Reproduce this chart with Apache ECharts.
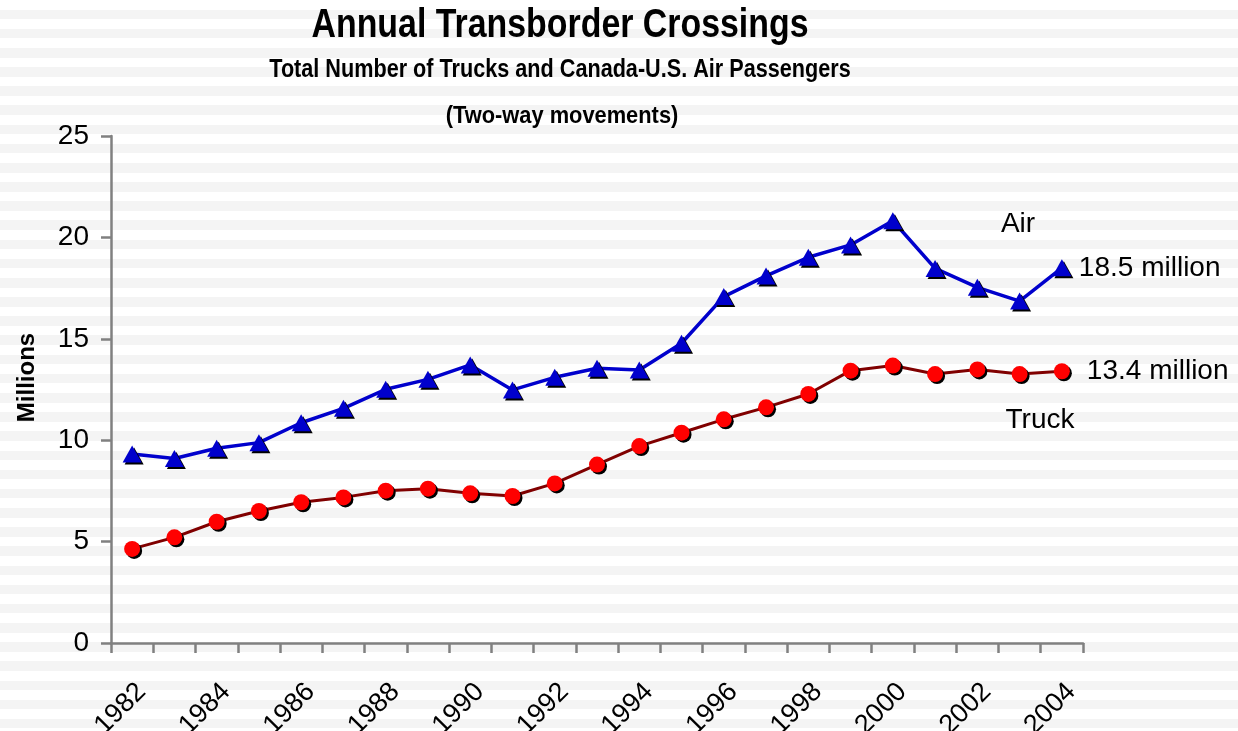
<!DOCTYPE html>
<html>
<head>
<meta charset="utf-8">
<script src="https://cdn.jsdelivr.net/npm/echarts@6/dist/echarts.min.js"></script>
<style>
html,body{margin:0;padding:0;}
#chart{width:1238px;height:731px;
background: repeating-linear-gradient(to bottom, #ffffff 0px, #ffffff 9.6px, #f4f4f4 9.6px, #f4f4f4 19.17px);}
</style>
</head>
<body>
<div id="chart"></div>
<script>
const years = ['1982','1983','1984','1985','1986','1987','1988','1989','1990','1991','1992','1993','1994','1995','1996','1997','1998','1999','2000','2001','2002','2003','2004'];
const air = [9.32, 9.1, 9.6, 9.88, 10.86, 11.57, 12.51, 13.0, 13.71, 12.48, 13.1, 13.55, 13.46, 14.78, 17.08, 18.1, 19.02, 19.63, 20.82, 18.47, 17.54, 16.86, 18.5];
const truck = [4.64, 5.21, 5.98, 6.51, 6.94, 7.18, 7.51, 7.61, 7.38, 7.25, 7.87, 8.8, 9.71, 10.37, 11.03, 11.62, 12.28, 13.43, 13.68, 13.26, 13.49, 13.26, 13.4];
const yMin = 0, yMax = 25, yStep = 5;
const titleText = 'Annual Transborder Crossings';
const subText = 'Total Number of Trucks and Canada-U.S. Air Passengers';
const subText2 = '(Two-way movements)';
const yName = 'Millions';
const airName = 'Air', truckName = 'Truck';

const FONT = '"Liberation Sans", Arial, sans-serif';
const chart = echarts.init(document.getElementById('chart'), null, {renderer:'canvas'});
const shadow = {shadowColor:'rgba(0,0,0,1)', shadowBlur:0, shadowOffsetX:2, shadowOffsetY:2};
function label(text, cx, cy, size, bold, sx) {
  return {type: 'text', x: cx, y: cy, scaleX: sx, scaleY: 1,
    style: {text: text, font: (bold ? 'bold ' : '') + size + 'px ' + FONT, fill: '#000',
      textAlign: 'center', textVerticalAlign: 'middle'}};
}
chart.setOption({
  backgroundColor: 'transparent',
  animation: false,
  grid: {left: 111, right: 1238 - 1083, top: 136, bottom: 731 - 643, containLabel: false, outerBoundsMode: 'none'},
  xAxis: {
    type: 'category', data: years, boundaryGap: true,
    axisLine: {lineStyle: {color: '#808080', width: 2.5}},
    axisTick: {show: true, alignWithLabel: false, interval: 0, length: 10, lineStyle: {color: '#808080', width: 2.5}},
    axisLabel: {interval: 1, rotate: 45, margin: 35, verticalAlign: 'top', fontFamily: FONT, fontSize: 27, color: '#000'},
    splitLine: {show: false}
  },
  yAxis: {
    type: 'value', min: yMin, max: yMax, interval: yStep,
    name: yName, nameLocation: 'middle', nameRotate: 90, nameGap: 72,
    nameTextStyle: {fontFamily: FONT, fontWeight: 'bold', fontSize: 24, color: '#000', padding: [0, 0, 0, 24]},
    axisLine: {show: true, lineStyle: {color: '#808080', width: 2.5}},
    axisTick: {show: true, length: 10, lineStyle: {color: '#808080', width: 2.5}},
    axisLabel: {margin: 22, fontFamily: FONT, fontSize: 28, color: '#000'},
    splitLine: {show: false}
  },
  series: [
    {name: airName, type: 'line', data: air, symbol: 'triangle', symbolSize: [19, 17],
     lineStyle: {color: '#0000CC', width: 3.5},
     itemStyle: Object.assign({color: '#0000CC'}, shadow),
     endLabel: {show: true, distance: 17, formatter: p => p.value + ' million',
       fontFamily: FONT, fontSize: 28, color: '#000'},
     z: 3},
    {name: truckName, type: 'line', data: truck, symbol: 'circle', symbolSize: 16,
     lineStyle: {color: '#800000', width: 3},
     itemStyle: Object.assign({color: '#FF0000'}, shadow),
     endLabel: {show: true, distance: 25, formatter: p => p.value + ' million',
       fontFamily: FONT, fontSize: 28, color: '#000'},
     z: 2}
  ],
  graphic: [
    label(titleText, 560, 26, 40, true, 0.847),
    label(subText, 560, 70, 26, true, 0.832),
    label(subText2, 562, 116, 24, true, 0.91),
    label(airName, 1018, 224, 28, false, 1),
    label(truckName, 1040, 420, 28, false, 1)
  ]
});
</script>
</body>
</html>
